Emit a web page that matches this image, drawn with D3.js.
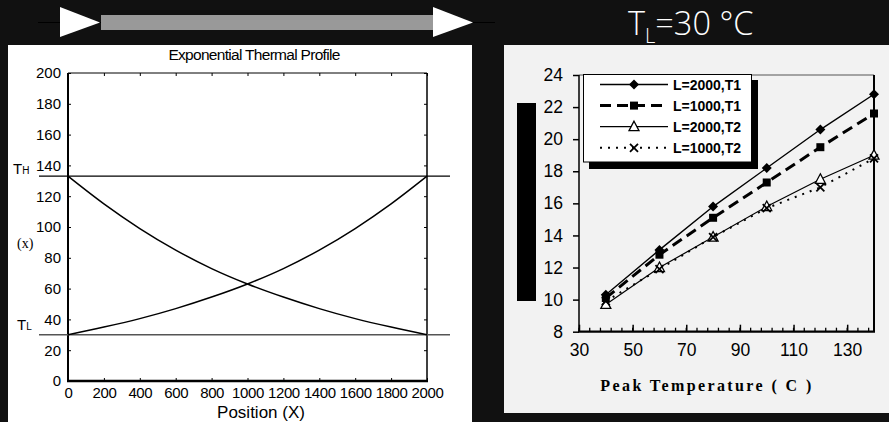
<!DOCTYPE html>
<html>
<head>
<meta charset="utf-8">
<script src="https://cdn.jsdelivr.net/npm/d3@7"></script>
<style>
  body { margin: 0; background: #111111; }
  svg { display: block; }
</style>
</head>
<body>
<svg id="fig" width="889" height="422"></svg>
<script>
// ---- Exponential thermal profile (left panel) ----
const positions      = [0, 200, 400, 600, 800, 1000, 1200, 1400, 1600, 1800, 2000];
const coolingProfile = [133, 115, 99, 85, 73, 63, 54.5, 47, 40.5, 35, 30];
const heatingProfile = [30, 35, 40.5, 47, 54.5, 63, 73, 85, 99, 115, 133];
const profileXTicks  = [0, 200, 400, 600, 800, 1000, 1200, 1400, 1600, 1800, 2000];
const profileYTicks  = [0, 20, 40, 60, 80, 100, 120, 140, 160, 180, 200];
const tempHigh = 133;
const tempLow  = 30;

// ---- Peak temperature results (right panel) ----
const peakTemps   = [40, 60, 80, 100, 120, 140];
const seriesNames = ["L=2000,T1", "L=1000,T1", "L=2000,T2", "L=1000,T2"];
const l2000T1 = [10.3, 13.1, 15.8, 18.2, 20.6, 22.8];
const l1000T1 = [10.1, 12.8, 15.1, 17.3, 19.5, 21.6];
const l2000T2 = [9.7, 12.0, 13.9, 15.8, 17.5, 19.0];
const l1000T2 = [9.9, 11.9, 13.9, 15.7, 17.0, 18.8];
const peakXTicks = [30, 50, 70, 90, 110, 130];
const peakYTicks = [8, 10, 12, 14, 16, 18, 20, 22, 24];

const svg = d3.select("#fig");
const SANS = "'Liberation Sans', Arial, sans-serif";
const SERIF = "'Liberation Serif', 'Times New Roman', serif";

// ---------- top banner: arrow with bar ----------
const banner = svg.append("g");
banner.append("line").attr("x1", 38).attr("x2", 495).attr("y1", 22.5).attr("y2", 22.5)
  .attr("stroke", "#000").attr("stroke-width", 1);
banner.append("rect").attr("x", 101).attr("y", 15).attr("width", 332).attr("height", 15).attr("fill", "#999");
banner.append("path").attr("d", "M60,7 L100,22.5 L60,37 Z").attr("fill", "#fff");
banner.append("path").attr("d", "M433,7 L473,22.5 L433,37 Z").attr("fill", "#fff");

const tl = svg.append("text").attr("x", 628).attr("y", 35)
  .attr("font-family", "'Open Sans', sans-serif").attr("font-weight", 300)
  .attr("font-size", 32.5).attr("fill", "#fff");
tl.append("tspan").text("T");
tl.append("tspan").attr("font-size", 20).attr("dy", 8).text("L");
tl.append("tspan").attr("dy", -8).text("=30 \u00B0C");

// ---------- left panel ----------
svg.append("rect").attr("x", 8).attr("y", 45).attr("width", 464).attr("height", 377).attr("fill", "#fff");

const xL = d3.scaleLinear().domain([0, 2000]).range([68, 427]);
const yL = d3.scaleLinear().domain([0, 200]).range([381, 73]);

const left = svg.append("g");

left.append("text").attr("x", 254).attr("y", 60).attr("text-anchor", "middle")
  .attr("font-family", SANS).attr("font-size", 15.5).attr("letter-spacing", -0.7)
  .attr("fill", "#000").text("Exponential Thermal Profile");

const axB = left.append("g").attr("transform", `translate(0,${yL(0)})`)
  .call(d3.axisBottom(xL).tickValues(profileXTicks).tickSizeInner(-3).tickSizeOuter(0).tickPadding(6.5).tickFormat(d3.format("d")));
const axLft = left.append("g").attr("transform", `translate(${xL(0)},0)`)
  .call(d3.axisLeft(yL).tickValues(profileYTicks).tickSizeInner(-3).tickSizeOuter(0).tickPadding(7));
const axT = left.append("g").attr("transform", `translate(0,${yL(200)})`)
  .call(d3.axisTop(xL).tickValues(profileXTicks).tickSizeInner(-3).tickSizeOuter(0).tickFormat(""));
const axR = left.append("g").attr("transform", `translate(${xL(2000)},0)`)
  .call(d3.axisRight(yL).tickValues(profileYTicks).tickSizeInner(-3).tickSizeOuter(0).tickFormat(""));
[axB, axLft, axT, axR].forEach(a => {
  a.select(".domain").remove();
  a.selectAll("text").attr("font-family", SANS).attr("font-size", 15).attr("fill", "#000");
  a.selectAll(".tick line").attr("stroke", "#000");
});
axB.selectAll("text").attr("letter-spacing", -0.4);

// frame
left.append("line").attr("x1", xL(0)).attr("x2", xL(2000)).attr("y1", yL(200)).attr("y2", yL(200)).attr("stroke", "#000").attr("stroke-width", 1);
left.append("line").attr("x1", xL(2000)).attr("x2", xL(2000)).attr("y1", yL(200)).attr("y2", yL(0)).attr("stroke", "#000").attr("stroke-width", 1.5);
left.append("line").attr("x1", xL(0)).attr("x2", xL(0)).attr("y1", yL(200)).attr("y2", yL(0) + 1).attr("stroke", "#000").attr("stroke-width", 2);
left.append("line").attr("x1", xL(0) - 1).attr("x2", xL(2000) + 1).attr("y1", yL(0)).attr("y2", yL(0)).attr("stroke", "#000").attr("stroke-width", 2.6);

// reference temperature lines
left.append("line").attr("x1", 39).attr("x2", 450).attr("y1", yL(tempHigh)).attr("y2", yL(tempHigh))
  .attr("stroke", "#000").attr("stroke-width", 1.3);
left.append("line").attr("x1", 39).attr("x2", 450).attr("y1", yL(tempLow)).attr("y2", yL(tempLow))
  .attr("stroke", "#555").attr("stroke-width", 1.5);

const profLine = d3.line().x((d, i) => xL(positions[i])).y(d => yL(d)).curve(d3.curveMonotoneX);
[coolingProfile, heatingProfile].forEach(p => {
  left.append("path").attr("d", profLine(p)).attr("fill", "none").attr("stroke", "#000").attr("stroke-width", 1.5);
});

function subLabel(x, y, main, sub) {
  const t = left.append("text").attr("x", x).attr("y", y).attr("font-family", SANS).attr("font-size", 15).attr("fill", "#000");
  t.append("tspan").text(main);
  t.append("tspan").attr("font-size", 10).text(sub);
}
subLabel(13, yL(tempHigh) - 2, "T", "H");
subLabel(17, yL(tempLow) - 5, "T", "L");
left.append("text").attr("x", 17).attr("y", 248).attr("font-family", SERIF).attr("font-size", 14)
  .attr("fill", "#000").text("(x)");

left.append("text").attr("x", 261).attr("y", 418).attr("text-anchor", "middle")
  .attr("font-family", SANS).attr("font-size", 17).attr("fill", "#000").text("Position (X)");

// ---------- right panel ----------
svg.append("rect").attr("x", 504).attr("y", 45).attr("width", 385).attr("height", 368).attr("fill", "#f2f2f2");
svg.append("rect").attr("x", 517).attr("y", 103).attr("width", 19).attr("height", 198).attr("fill", "#000");

const xR = d3.scaleLinear().domain([30, 140]).range([579, 874]);
const yR = d3.scaleLinear().domain([8, 24]).range([331.7, 75]);
const right = svg.append("g");

// minor ticks every 4 degrees, majors every 20
const minorTicks = d3.range(30, 141, 4);
right.append("g").selectAll("line").data(minorTicks).join("line")
  .attr("x1", d => xR(d)).attr("x2", d => xR(d)).attr("y1", yR(8)).attr("y2", yR(8) - 4)
  .attr("stroke", "#000").attr("stroke-width", 1.3);
const axRB = right.append("g").attr("transform", `translate(0,${yR(8)})`)
  .call(d3.axisBottom(xR).tickValues(peakXTicks).tickSizeInner(-7).tickSizeOuter(0).tickPadding(12));
const axRL = right.append("g").attr("transform", `translate(${xR(30)},0)`)
  .call(d3.axisLeft(yR).tickValues(peakYTicks).tickSizeInner(6).tickSizeOuter(0).tickPadding(10));
[axRB, axRL].forEach(a => {
  a.select(".domain").remove();
  a.selectAll("text").attr("font-family", SANS).attr("font-size", 17.5).attr("fill", "#000");
  a.selectAll(".tick line").attr("stroke", "#000").attr("stroke-width", 1.5);
});

right.append("line").attr("x1", xR(30)).attr("x2", xR(140)).attr("y1", yR(24)).attr("y2", yR(24)).attr("stroke", "#555").attr("stroke-width", 1);
right.append("line").attr("x1", xR(140)).attr("x2", xR(140)).attr("y1", yR(24)).attr("y2", yR(8)).attr("stroke", "#000").attr("stroke-width", 2);
right.append("line").attr("x1", xR(30)).attr("x2", xR(30)).attr("y1", yR(24)).attr("y2", yR(8)).attr("stroke", "#000").attr("stroke-width", 1.5);
right.append("line").attr("x1", xR(30) - 1).attr("x2", xR(140) + 1).attr("y1", yR(8)).attr("y2", yR(8)).attr("stroke", "#000").attr("stroke-width", 2.2);

right.append("text").attr("x", 707).attr("y", 390.5).attr("text-anchor", "middle")
  .attr("font-family", SERIF).attr("font-weight", "bold").attr("font-size", 16)
  .attr("letter-spacing", 2.4).attr("fill", "#000").text("Peak Temperature ( C )");

const seriesValues = [l2000T1, l1000T1, l2000T2, l1000T2];
const lineStyles = [
  { w: 1.4, dash: null },
  { w: 3,   dash: "11,6" },
  { w: 1.2, dash: null },
  { w: 2,   dash: "2,6" }
];
const markerShapes = ["diamond", "square", "triangle", "cross"];

function drawMarker(g, shape, x, y) {
  if (shape === "diamond") {
    g.append("path").attr("d", `M${x},${y - 5}L${x + 5},${y}L${x},${y + 5}L${x - 5},${y}Z`).attr("fill", "#000");
  } else if (shape === "square") {
    g.append("rect").attr("x", x - 4).attr("y", y - 4).attr("width", 8).attr("height", 8).attr("fill", "#000");
  } else if (shape === "triangle") {
    g.append("path").attr("d", `M${x},${y - 5.5}L${x + 5},${y + 4}L${x - 5},${y + 4}Z`)
      .attr("fill", "#fff").attr("stroke", "#000").attr("stroke-width", 1.3);
  } else {
    g.append("path").attr("d", `M${x - 4},${y - 4}L${x + 4},${y + 4}M${x + 4},${y - 4}L${x - 4},${y + 4}`)
      .attr("stroke", "#000").attr("stroke-width", 1.8);
  }
}

const peakLine = d3.line().x((d, i) => xR(peakTemps[i])).y(d => yR(d));
seriesValues.forEach((vals, s) => {
  const st = lineStyles[s];
  const p = right.append("path").attr("d", peakLine(vals)).attr("fill", "none")
    .attr("stroke", "#000").attr("stroke-width", st.w);
  if (st.dash) p.attr("stroke-dasharray", st.dash);
});
seriesValues.forEach((vals, s) => {
  vals.forEach((v, i) => drawMarker(right, markerShapes[s], xR(peakTemps[i]), yR(v)));
});

// legend with drop shadow
const lg = right.append("g");
lg.append("rect").attr("x", 589).attr("y", 80).attr("width", 169).attr("height", 89).attr("fill", "#000");
lg.append("rect").attr("x", 583.5).attr("y", 74.5).attr("width", 168).attr("height", 87.5)
  .attr("fill", "#fff").attr("stroke", "#000").attr("stroke-width", 1);
seriesNames.forEach((name, s) => {
  const cy = 84.5 + s * 21.1;
  const st = lineStyles[s];
  const l = lg.append("line").attr("x1", 600).attr("x2", 668).attr("y1", cy).attr("y2", cy)
    .attr("stroke", "#000").attr("stroke-width", st.w);
  if (st.dash) l.attr("stroke-dasharray", st.dash);
  drawMarker(lg, markerShapes[s], 634, cy);
  lg.append("text").attr("x", 673).attr("y", cy).attr("dy", "0.36em")
    .attr("font-family", SANS).attr("font-weight", "bold").attr("font-size", 14)
    .attr("fill", "#000").text(name);
});
</script>
</body>
</html>
